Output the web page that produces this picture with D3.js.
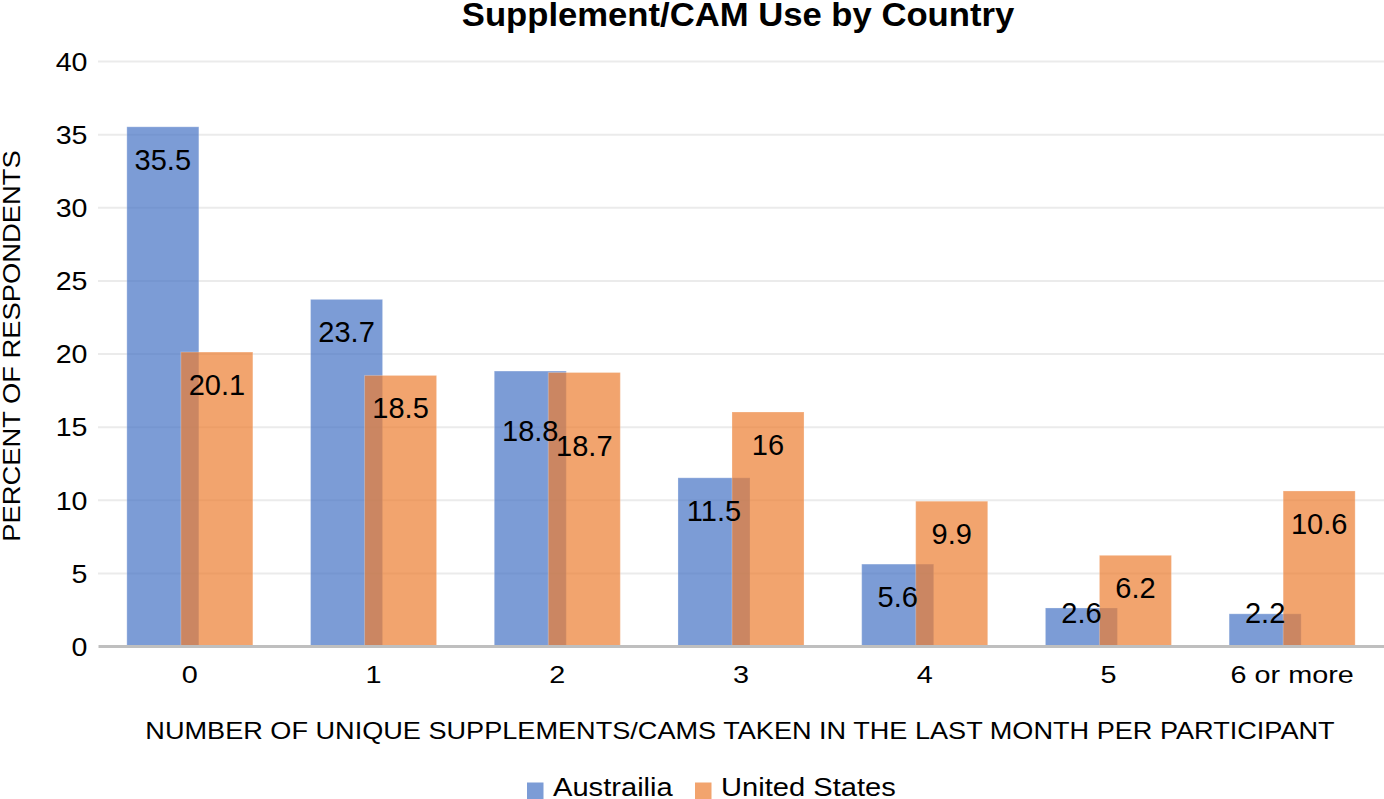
<!DOCTYPE html>
<html>
<head>
<meta charset="utf-8">
<script src="https://cdn.jsdelivr.net/npm/d3@7"></script>
<style>
  html, body { margin: 0; padding: 0; background: #fff; }
  svg { display: block; font-family: "Liberation Sans", Arial, Helvetica, sans-serif; }
</style>
</head>
<body>
<svg id="chart" width="1384" height="799"></svg>
<script>
const categories = ["0", "1", "2", "3", "4", "5", "6 or more"];
const seriesNames = ["Austrailia", "United States"];
const australia = [35.5, 23.7, 18.8, 11.5, 5.6, 2.6, 2.2];
const unitedStates = [20.1, 18.5, 18.7, 16, 9.9, 6.2, 10.6];
const yTicks = [0, 5, 10, 15, 20, 25, 30, 35, 40];
const titleText = "Supplement/CAM Use by Country";
const xTitleText = "NUMBER OF UNIQUE SUPPLEMENTS/CAMS TAKEN IN THE LAST MONTH PER PARTICIPANT";
const yTitleText = "PERCENT OF RESPONDENTS";

(function () {
const colors = ["#4472C4", "#ED7D31"];
const seriesValues = [australia, unitedStates];

const svg = d3.select("#chart");
const plotLeft = 98, plotRight = 1384, plotTop = 61, plotBottom = 646;

const x = d3.scaleBand().domain(categories).range([plotLeft, plotRight]).paddingInner(0).paddingOuter(0);
const y = d3.scaleLinear().domain([0, 40]).range([plotBottom, plotTop]);
const step = x.step();
const barW = step * 0.392;
const offsets = [-step * 0.147, step * 0.147];

// Title
svg.append("text")
  .attr("transform", `translate(738,25.5) scale(1.05,1)`)
  .attr("text-anchor", "middle")
  .attr("font-size", 33)
  .attr("font-weight", "bold")
  .attr("fill", "#000")
  .text(titleText);

// Y axis with gridlines
const yAxis = svg.append("g")
  .attr("transform", `translate(${plotLeft},0)`)
  .call(d3.axisLeft(y).tickValues(yTicks).tickSize(-(plotRight - plotLeft)).tickFormat(d3.format("d")));
yAxis.select(".domain").remove();
yAxis.selectAll(".tick line")
  .attr("stroke", "#ebebeb")
  .attr("stroke-width", 2)
  .attr("opacity", d => d === 0 ? 0 : 1);
yAxis.selectAll(".tick text")
  .attr("x", null)
  .attr("dy", null)
  .attr("transform", "translate(-10.5,9.3) scale(1.1,1)")
  .attr("text-anchor", "end")
  .attr("font-size", 26)
  .attr("font-family", "Liberation Sans, Arial, sans-serif")
  .attr("fill", "#000");

// Bars
seriesNames.forEach((name, si) => {
  svg.append("g")
    .selectAll("rect")
    .data(categories.map((c, i) => ({ c, v: seriesValues[si][i] })))
    .join("rect")
    .attr("x", d => x(d.c) + step / 2 + offsets[si] - barW / 2)
    .attr("y", d => y(d.v))
    .attr("width", barW)
    .attr("height", d => y(0) - y(d.v))
    .attr("fill", colors[si])
    .attr("fill-opacity", 0.7)
    .attr("stroke", "#ffffff")
    .attr("stroke-opacity", 0.25)
    .attr("stroke-width", 1);
});

// X axis
const xAxis = svg.append("g")
  .attr("transform", `translate(0,${plotBottom})`)
  .call(d3.axisBottom(x).tickSize(0));
xAxis.select(".domain")
  .attr("stroke", "#bfbfbf")
  .attr("stroke-width", 3);
xAxis.selectAll(".tick text")
  .attr("y", null)
  .attr("dy", null)
  .attr("transform", "translate(0,37.3) scale(1.2,1)")
  .attr("text-anchor", "middle")
  .attr("font-size", 24)
  .attr("font-family", "Liberation Sans, Arial, sans-serif")
  .attr("fill", "#000");

// Value labels (with simple collision handling between the two series)
const labelData = [];
categories.forEach((c, i) => {
  const items = seriesValues.map((vals, si) => ({
    c, si, v: vals[i],
    lx: x(c) + step / 2 + offsets[si],
    ly: Math.min(y(vals[i]) + 43, y(0) - 23)
  }));
  // if the two labels sit at nearly the same height they collide; stagger them downward
  if (Math.abs(items[0].ly - items[1].ly) < 12) {
    items[0].ly += 27;
    items[1].ly += 40;
  }
  labelData.push(...items);
});
svg.append("g")
  .selectAll("text")
  .data(labelData)
  .join("text")
  .attr("x", d => d.lx)
  .attr("y", d => d.ly)
  .attr("text-anchor", "middle")
  .attr("font-size", 29)
  .attr("fill", "#000")
  .text(d => d.v);

// X title
svg.append("text")
  .attr("transform", "translate(740,738.5) scale(1.13,1)")
  .attr("text-anchor", "middle")
  .attr("font-size", 24)
  .attr("fill", "#000")
  .text(xTitleText);

// Y title
svg.append("text")
  .attr("transform", "translate(20,346) rotate(-90) scale(1.19,1)")
  .attr("text-anchor", "middle")
  .attr("font-size", 23)
  .attr("fill", "#000")
  .text(yTitleText);

// Legend
const legendPos = [527, 695];
const legend = svg.append("g");
seriesNames.forEach((name, si) => {
  const g = legend.append("g").attr("transform", `translate(${legendPos[si]},0)`);
  g.append("rect")
    .attr("x", 0).attr("y", 782.5)
    .attr("width", 16.5).attr("height", 16.5)
    .attr("fill", colors[si])
    .attr("fill-opacity", 0.7);
  g.append("text")
    .attr("transform", "translate(26,796) scale(1.12,1)")
    .attr("font-size", 26)
    .attr("fill", "#000")
    .text(name);
});
})();
</script>
</body>
</html>
